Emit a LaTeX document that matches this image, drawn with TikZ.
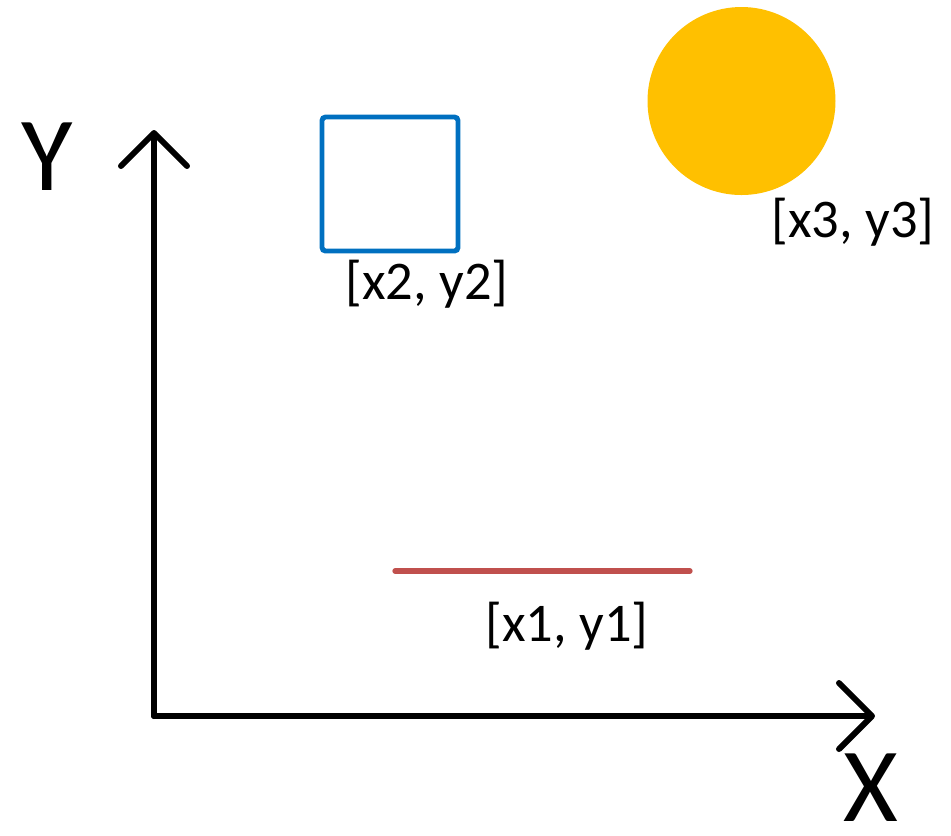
\documentclass[tikz,border=0pt]{standalone}
\usepackage{fontspec}
\setmainfont{Carlito}
\usepackage{tikz}
\usetikzlibrary{arrows.meta}
\definecolor{boxblue}{HTML}{0070C0}
\definecolor{sunorange}{HTML}{FFC000}
\definecolor{linered}{HTML}{C0504D}
\tikzset{
  axis/.style={line width=1.7pt,line cap=round,line join=round,
    -{Straight Barb[length=3.3mm,width=6.6mm,line cap=round,line join=round]}},
  coordlabel/.style={font=\fontsize{15.5}{18}\selectfont,inner sep=0pt},
  axislabel/.style={font=\fontsize{30}{36}\selectfont,inner sep=0pt}
}

\begin{document}
\begin{tikzpicture}[x=0.1mm,y=-0.1mm]
      \useasboundingbox (0,0) rectangle (951,835);
      \coordinate (O) at (154,716);
      \coordinate (xend) at (875,716);
      \coordinate (yend) at (154,130);
      \draw[axis] (O) -- (xend);
      \draw[axis] (O) -- (yend);
      \node[axislabel] (ylab) at (47,157) {Y};
      \node[axislabel] (xlab) at (871,788) {X};
      % square
      \draw[boxblue,line width=1.4pt,rounded corners=1pt] (322,117) rectangle (458,251);
      \node[coordlabel] (p2) at (427,284) {[x2, y2]};
      % circle
      \fill[sunorange] (741.5,101) circle (94);
      \node[coordlabel] (p3) at (853,222) {[x3, y3]};
      % line
      \draw[linered,line width=1.5pt,line cap=round] (395,571) -- (690,571);
      \node[coordlabel] (p1) at (567,626) {[x1, y1]};
    \end{tikzpicture}
\end{document}
